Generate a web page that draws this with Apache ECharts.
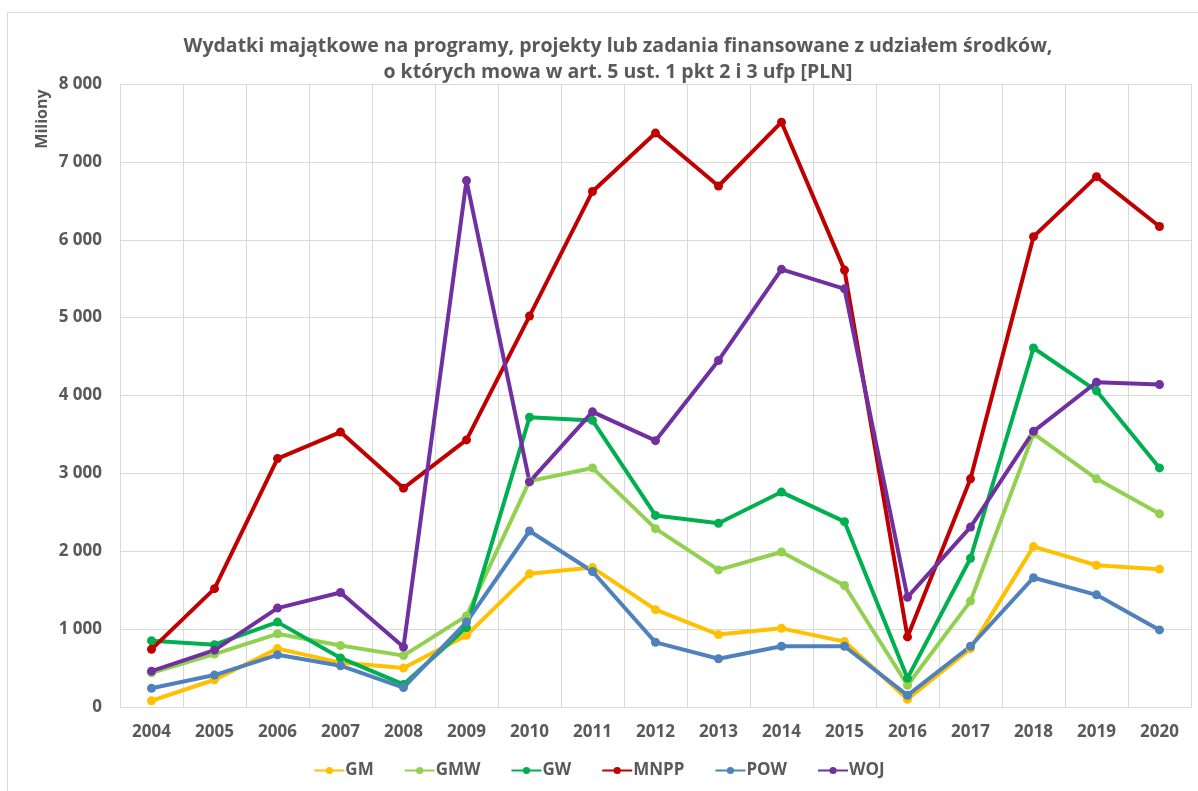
<!DOCTYPE html>
<html>
<head>
<meta charset="utf-8">
<script src="https://cdn.jsdelivr.net/npm/echarts@6/dist/echarts.min.js"></script>
<style>
  html, body { margin: 0; padding: 0; background: #fff; }
  #chart { width: 1198px; height: 791px; }
</style>
</head>
<body>
<div id="chart"></div>
<script>
// lata
const years = ['2004', '2005', '2006', '2007', '2008', '2009', '2010', '2011', '2012',
  '2013', '2014', '2015', '2016', '2017', '2018', '2019', '2020']

// wartości w mln zł
const gm = [80, 350, 750, 570, 500, 920, 1710, 1790, 1250, 930, 1010, 840, 100, 750, 2060, 1820, 1770]
const gmw = [440, 680, 940, 790, 660, 1170, 2900, 3070, 2290, 1760, 1990, 1560, 280, 1360, 3510, 2930, 2480]
const gw = [850, 800, 1090, 630, 290, 1020, 3720, 3680, 2460, 2360, 2760, 2380, 370, 1910, 4610, 4060, 3070]
const mnpp = [740, 1520, 3190, 3530, 2810, 3430, 5020, 6620, 7370, 6690, 7510, 5610, 900, 2930, 6040, 6810, 6170]
const pow = [240, 410, 670, 530, 250, 1090, 2260, 1740, 830, 620, 780, 780, 150, 780, 1660, 1440, 990]
const woj = [460, 730, 1270, 1470, 770, 6760, 2890, 3790, 3420, 4450, 5620, 5370, 1410, 2310, 3540, 4170, 4140]

const seriesNames = ['GM', 'GMW', 'GW', 'MNPP', 'POW', 'WOJ']
const seriesData = [gm, gmw, gw, mnpp, pow, woj]
const colors = ['#FFC000', '#92D050', '#00B050', '#C00000', '#4F81BD', '#7030A0']

const textColor = '#595959'
const font = 'Open Sans'

const chart = echarts.init(document.getElementById('chart'))

function fmt(v) {
  return String(v).replace(/\B(?=(\d{3})+(?!\d))/g, ' ')
}

chart.setOption({
  animation: false,
  color: colors,
  title: {
    text: 'Wydatki majątkowe na programy, projekty lub zadania finansowane z udziałem środków,\no których mowa w art. 5 ust. 1 pkt 2 i 3 ufp [PLN]',
    left: 613,
    textAlign: 'center',
    top: 28,
    textStyle: {
      fontFamily: font,
      fontSize: 19.5,
      fontWeight: 'bold',
      color: textColor,
      lineHeight: 26
    }
  },
  graphic: [{
    type: 'rect',
    shape: { x: 7.5, y: 12.5, width: 1200, height: 790 },
    style: { fill: 'none', stroke: '#d9d9d9', lineWidth: 1 },
    silent: true
  }, {
    type: 'text',
    x: 42,
    y: 119,
    rotation: Math.PI / 2,
    style: {
      text: 'Miliony',
      fontFamily: font,
      fontSize: 16,
      fontWeight: 'bold',
      fill: textColor,
      align: 'center',
      verticalAlign: 'middle'
    },
    silent: true
  }],
  legend: {
    bottom: 7,
    left: 'center',
    itemGap: 30,
    itemWidth: 30,
    itemHeight: 9,
    data: seriesNames,
    textStyle: {
      fontFamily: font,
      fontSize: 17,
      fontWeight: 'bold',
      color: textColor,
      padding: [0, 0, 0, -4]
    }
  },
  grid: {
    left: 120,
    right: 7,
    top: 84,
    bottom: 84
  },
  xAxis: {
    type: 'category',
    data: years,
    boundaryGap: true,
    axisLine: { lineStyle: { color: '#d9d9d9', width: 1 } },
    axisTick: { show: false },
    splitLine: { show: true, lineStyle: { color: '#d9d9d9', width: 1 } },
    axisLabel: {
      margin: 17,
      fontFamily: font,
      fontSize: 17,
      fontWeight: 'bold',
      color: textColor
    }
  },
  yAxis: {
    type: 'value',
    min: 0,
    max: 8000,
    interval: 1000,
    axisLine: { show: false },
    axisTick: { show: false },
    splitLine: { lineStyle: { color: '#d9d9d9', width: 1 } },
    axisLabel: {
      margin: 18,
      fontFamily: font,
      fontSize: 17,
      fontWeight: 'bold',
      color: textColor,
      formatter: fmt
    }
  },
  series: seriesNames.map((name, i) => ({
    name: name,
    type: 'line',
    data: seriesData[i],
    symbol: 'circle',
    symbolSize: 9,
    lineStyle: { width: 4, color: colors[i] },
    itemStyle: { color: colors[i] }
  }))
})
</script>
</body>
</html>
